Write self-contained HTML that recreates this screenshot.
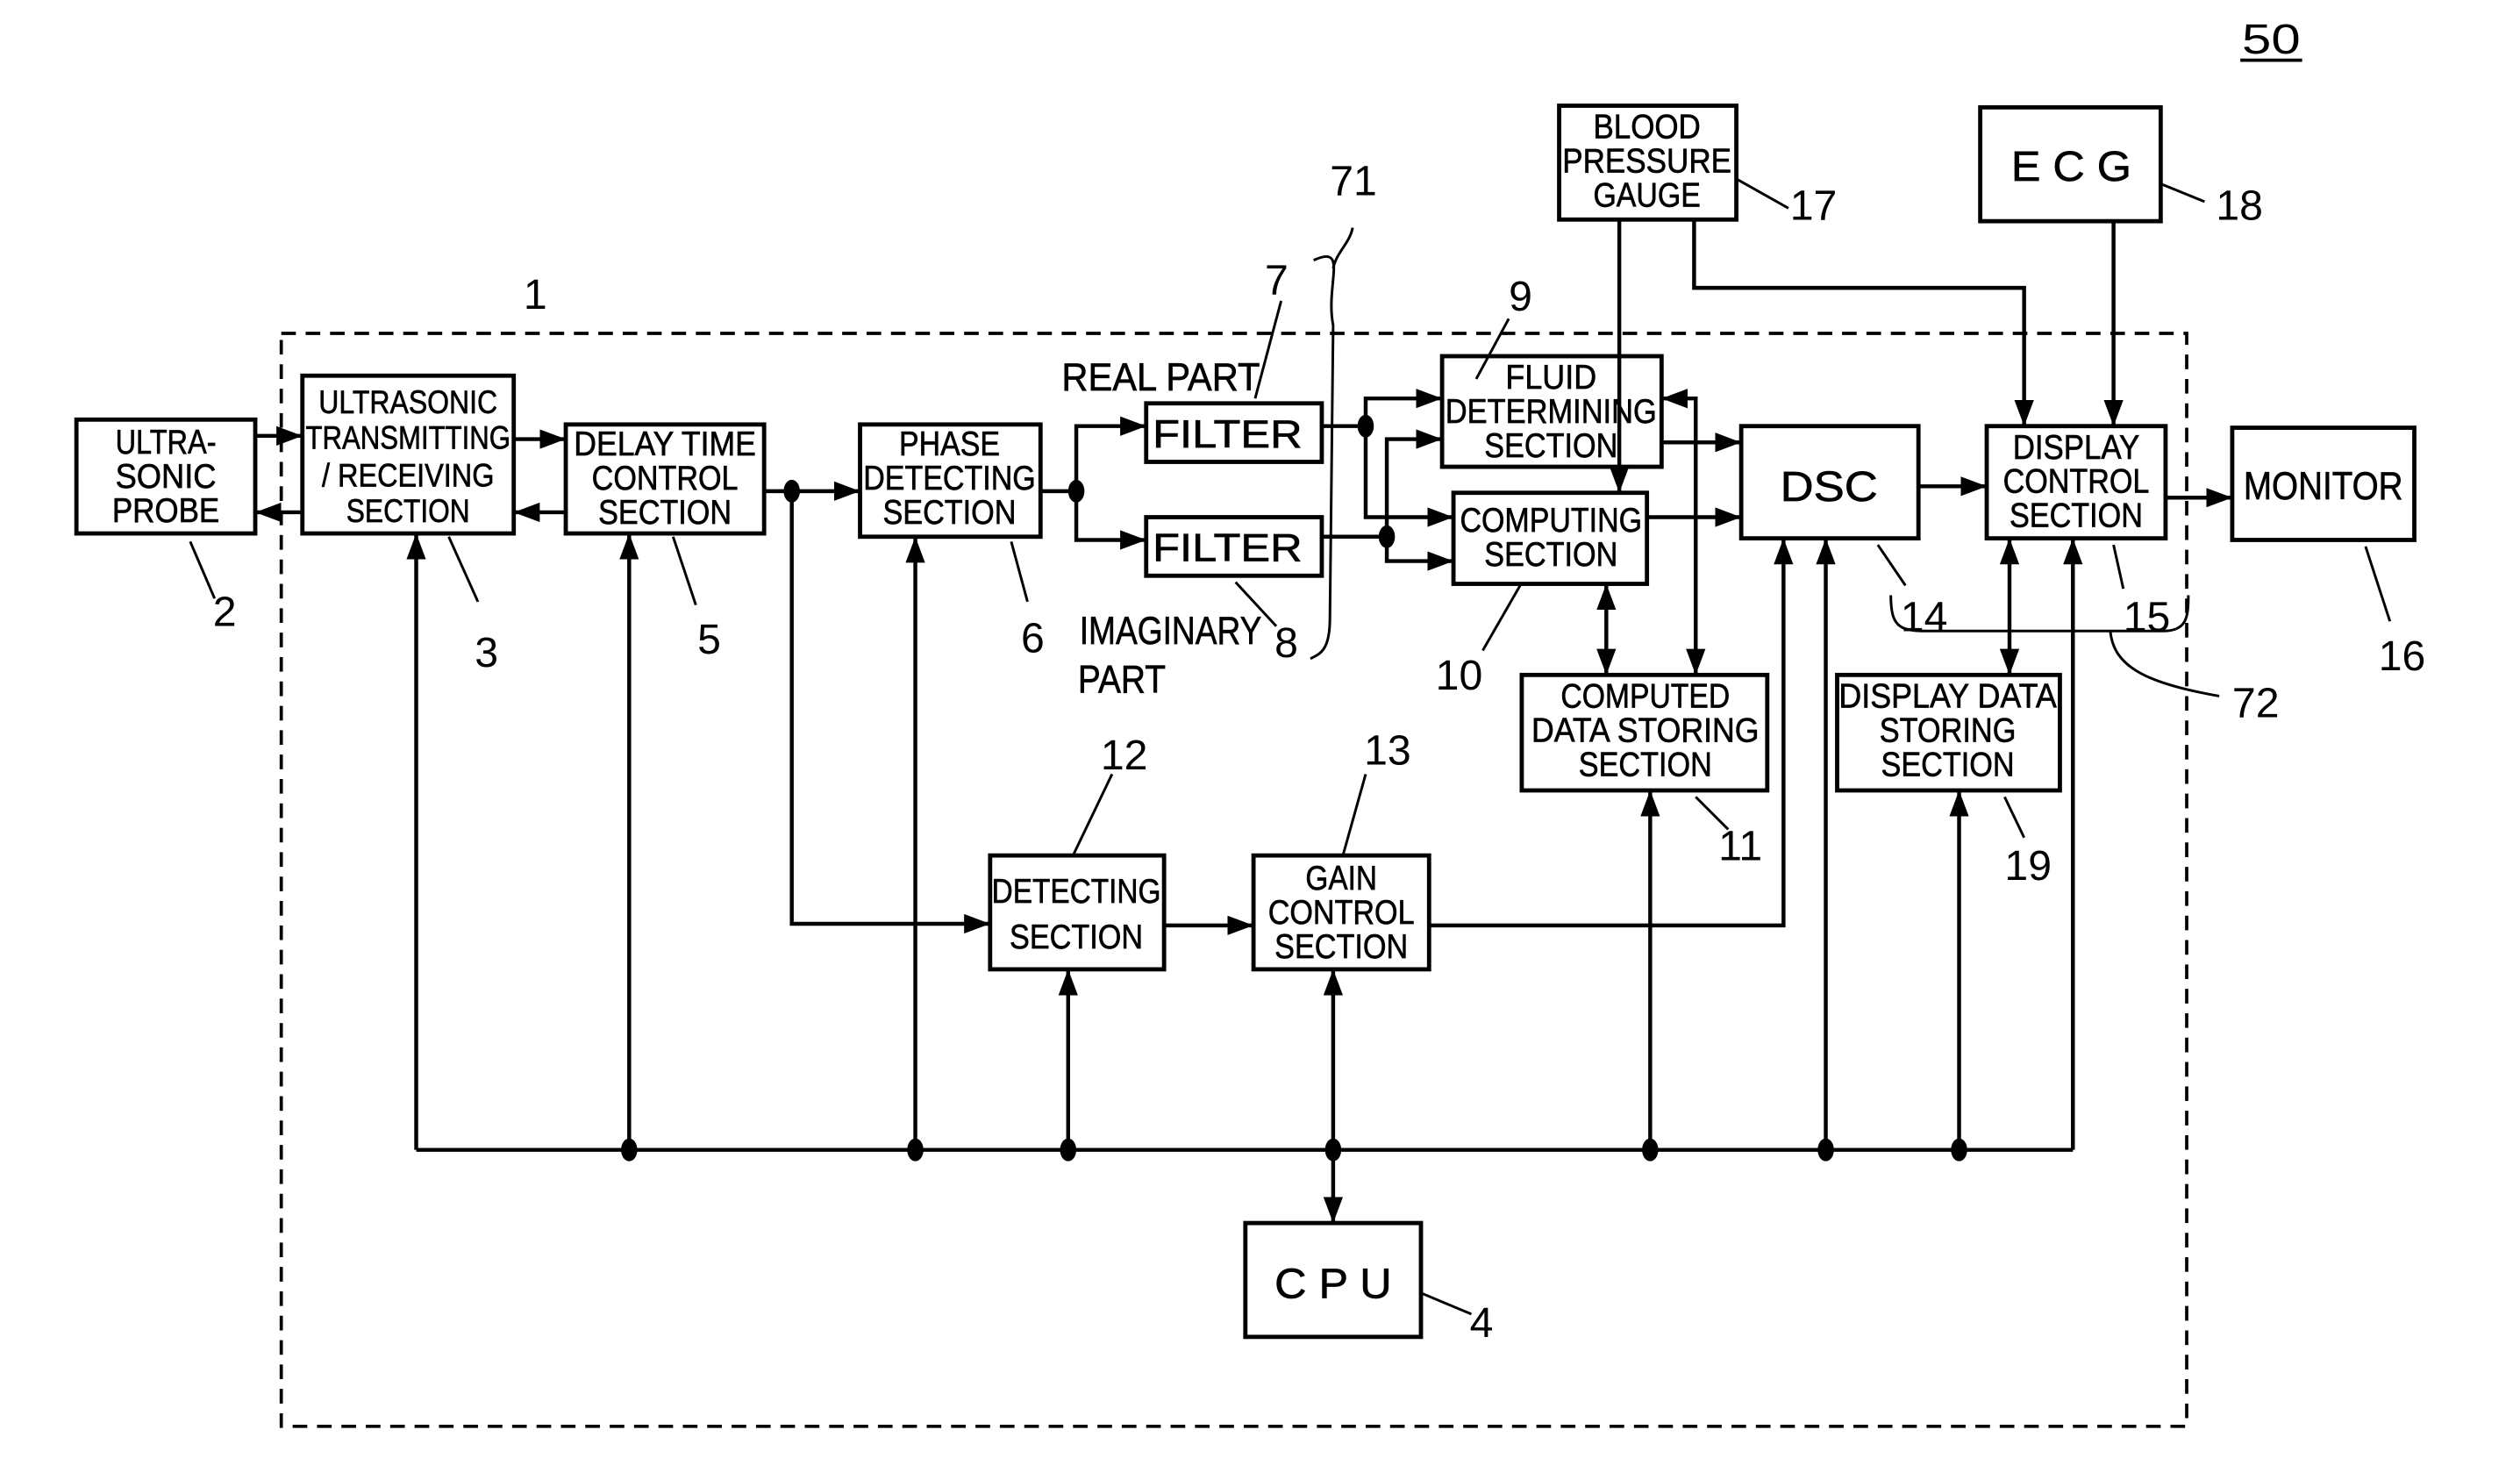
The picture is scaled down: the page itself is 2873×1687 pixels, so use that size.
<!DOCTYPE html>
<html><head><meta charset="utf-8"><style>
html,body{margin:0;padding:0;background:#fff;}
svg{display:block;}
text{font-family:"Liberation Sans",sans-serif;fill:#000;}
.b{font-size:21px;text-anchor:middle;stroke:#000;stroke-width:0.35;}
.n{font-size:26px;}
</style></head><body>
<svg width="2873" height="1687" viewBox="0 0 1550 910" preserveAspectRatio="none" xmlns="http://www.w3.org/2000/svg">
<defs>
<marker id="a" viewBox="0 0 16 12" refX="16" refY="6" markerWidth="16" markerHeight="12" markerUnits="userSpaceOnUse" orient="auto-start-reverse">
<path d="M0,0 L16,6 L0,12 z" fill="#000"/></marker>
</defs>
<g fill="none" stroke="#000" stroke-width="2.6">
<rect x="173" y="205" width="1172" height="672" stroke-dasharray="9,6" stroke-width="2"/>
<rect x="47" y="258" width="110" height="70"/>
<rect x="186" y="231" width="130" height="97"/>
<rect x="348" y="261" width="122" height="67"/>
<rect x="529" y="261" width="111" height="69"/>
<rect x="705" y="248" width="108" height="36"/>
<rect x="705" y="318" width="108" height="36"/>
<rect x="887" y="219" width="135" height="68"/>
<rect x="894" y="303" width="119" height="56"/>
<rect x="1071" y="262" width="109" height="69"/>
<rect x="1222" y="262" width="110" height="69"/>
<rect x="1373" y="263" width="112" height="69"/>
<rect x="959" y="65" width="109" height="70"/>
<rect x="1218" y="66" width="111" height="70"/>
<rect x="936" y="415" width="151" height="71"/>
<rect x="1130" y="415" width="137" height="71"/>
<rect x="609" y="526" width="107" height="70"/>
<rect x="771" y="526" width="108" height="70"/>
<rect x="766" y="752" width="108" height="70"/>
</g>
<g fill="none" stroke="#000" stroke-width="2.4">
<line x1="157" y1="268" x2="186" y2="268" marker-end="url(#a)"/>
<line x1="186" y1="315" x2="157" y2="315" marker-end="url(#a)"/>
<line x1="316" y1="270" x2="348" y2="270" marker-end="url(#a)"/>
<line x1="348" y1="315" x2="316" y2="315" marker-end="url(#a)"/>
<line x1="470" y1="302" x2="529" y2="302" marker-end="url(#a)"/>
<polyline points="487,302 487,568 609,568" marker-end="url(#a)"/>
<line x1="640" y1="302" x2="662" y2="302"/>
<polyline points="662,302 662,262 705,262" marker-end="url(#a)"/>
<polyline points="662,302 662,332 705,332" marker-end="url(#a)"/>
<line x1="813" y1="262" x2="840" y2="262"/>
<polyline points="840,262 840,245 887,245" marker-end="url(#a)"/>
<polyline points="840,262 840,318 894,318" marker-end="url(#a)"/>
<line x1="813" y1="330" x2="853" y2="330"/>
<polyline points="853,330 853,270 887,270" marker-end="url(#a)"/>
<polyline points="853,330 853,345 894,345" marker-end="url(#a)"/>
<line x1="1022" y1="272" x2="1071" y2="272" marker-end="url(#a)"/>
<line x1="1013" y1="318" x2="1071" y2="318" marker-end="url(#a)"/>
<line x1="996" y1="135" x2="996" y2="303" marker-end="url(#a)"/>
<polyline points="1042,135 1042,177 1245,177 1245,262" marker-end="url(#a)"/>
<line x1="1300" y1="136" x2="1300" y2="262" marker-end="url(#a)"/>
<polyline points="1043,415 1043,245 1022,245" marker-start="url(#a)" marker-end="url(#a)"/>
<line x1="988" y1="359" x2="988" y2="415" marker-start="url(#a)" marker-end="url(#a)"/>
<line x1="1180" y1="299" x2="1222" y2="299" marker-end="url(#a)"/>
<line x1="1332" y1="306" x2="1373" y2="306" marker-end="url(#a)"/>
<line x1="1236" y1="331" x2="1236" y2="415" marker-start="url(#a)" marker-end="url(#a)"/>
<line x1="256" y1="707" x2="1275" y2="707"/>
<line x1="256" y1="707" x2="256" y2="328" marker-end="url(#a)"/>
<line x1="387" y1="707" x2="387" y2="328" marker-end="url(#a)"/>
<line x1="563" y1="707" x2="563" y2="330" marker-end="url(#a)"/>
<line x1="657" y1="707" x2="657" y2="596" marker-end="url(#a)"/>
<line x1="820" y1="707" x2="820" y2="596" marker-end="url(#a)"/>
<line x1="820" y1="707" x2="820" y2="752" marker-end="url(#a)"/>
<line x1="1015" y1="707" x2="1015" y2="486" marker-end="url(#a)"/>
<line x1="1123" y1="707" x2="1123" y2="331" marker-end="url(#a)"/>
<line x1="1205" y1="707" x2="1205" y2="486" marker-end="url(#a)"/>
<line x1="1275" y1="707" x2="1275" y2="331" marker-end="url(#a)"/>
<line x1="716" y1="569" x2="771" y2="569" marker-end="url(#a)"/>
<polyline points="879,569 1097,569 1097,331" marker-end="url(#a)"/>
</g>
<g fill="#000">
<ellipse cx="487" cy="302" rx="5" ry="7"/><ellipse cx="662" cy="302" rx="5" ry="7"/>
<ellipse cx="840" cy="262" rx="5" ry="7"/><ellipse cx="853" cy="330" rx="5" ry="7"/>
<ellipse cx="387" cy="707" rx="5" ry="7"/><ellipse cx="563" cy="707" rx="5" ry="7"/>
<ellipse cx="657" cy="707" rx="5" ry="7"/><ellipse cx="820" cy="707" rx="5" ry="7"/>
<ellipse cx="1015" cy="707" rx="5" ry="7"/><ellipse cx="1123" cy="707" rx="5" ry="7"/>
<ellipse cx="1205" cy="707" rx="5" ry="7"/>
</g>
<g fill="none" stroke="#000" stroke-width="1.6">
<line x1="117" y1="333" x2="132" y2="368"/>
<line x1="276" y1="330" x2="294" y2="370"/>
<line x1="414" y1="330" x2="428" y2="372"/>
<line x1="622" y1="333" x2="632" y2="370"/>
<line x1="788" y1="185" x2="772" y2="245"/>
<line x1="760" y1="358" x2="785" y2="385"/>
<line x1="928" y1="196" x2="908" y2="233"/>
<line x1="935" y1="360" x2="912" y2="400"/>
<line x1="1043" y1="490" x2="1063" y2="510"/>
<line x1="684" y1="476" x2="660" y2="526"/>
<line x1="840" y1="476" x2="826" y2="526"/>
<line x1="1155" y1="335" x2="1172" y2="360"/>
<line x1="1300" y1="335" x2="1306" y2="362"/>
<line x1="1455" y1="336" x2="1470" y2="382"/>
<line x1="1068" y1="110" x2="1100" y2="128"/>
<line x1="1329" y1="113" x2="1356" y2="124"/>
<line x1="1233" y1="490" x2="1245" y2="515"/>
<line x1="874" y1="795" x2="905" y2="808"/>
<path d="M808,160 C830,150 815,175 820,200 L818,380 C818,400 812,402 806,405"/>
<path d="M832,140 C830,150 822,155 820,165"/>
<path d="M1163,366 C1163,385 1168,388 1185,388 L1330,388 C1345,388 1346,380 1346,366"/>
<path d="M1298,388 C1300,410 1320,420 1365,428"/>
</g>
<text x="1379" y="33" class="n" textLength="36" lengthAdjust="spacingAndGlyphs">50</text>
<line x1="1378" y1="37" x2="1416" y2="37" stroke="#000" stroke-width="2"/>
<g class="b">
<text><tspan x="102" y="279" textLength="62" lengthAdjust="spacingAndGlyphs">ULTRA-</tspan><tspan x="102" y="300" textLength="62" lengthAdjust="spacingAndGlyphs">SONIC</tspan><tspan x="102" y="321" textLength="66" lengthAdjust="spacingAndGlyphs">PROBE</tspan></text>
<text font-size="20"><tspan x="251" y="254" textLength="110" lengthAdjust="spacingAndGlyphs">ULTRASONIC</tspan><tspan x="251" y="276" textLength="126" lengthAdjust="spacingAndGlyphs">TRANSMITTING</tspan><tspan x="251" y="299" textLength="106" lengthAdjust="spacingAndGlyphs">/ RECEIVING</tspan><tspan x="251" y="321" textLength="76" lengthAdjust="spacingAndGlyphs">SECTION</tspan></text>
<text><tspan x="409" y="280" textLength="112" lengthAdjust="spacingAndGlyphs">DELAY TIME</tspan><tspan x="409" y="301" textLength="90" lengthAdjust="spacingAndGlyphs">CONTROL</tspan><tspan x="409" y="322" textLength="82" lengthAdjust="spacingAndGlyphs">SECTION</tspan></text>
<text><tspan x="584" y="280" textLength="62" lengthAdjust="spacingAndGlyphs">PHASE</tspan><tspan x="584" y="301" textLength="106" lengthAdjust="spacingAndGlyphs">DETECTING</tspan><tspan x="584" y="322" textLength="82" lengthAdjust="spacingAndGlyphs">SECTION</tspan></text>
<text font-size="24" x="755" y="275" textLength="92" lengthAdjust="spacingAndGlyphs">FILTER</text>
<text font-size="24" x="755" y="345" textLength="92" lengthAdjust="spacingAndGlyphs">FILTER</text>
<text><tspan x="954" y="239" textLength="56" lengthAdjust="spacingAndGlyphs">FLUID</tspan><tspan x="954" y="260" textLength="130" lengthAdjust="spacingAndGlyphs">DETERMINING</tspan><tspan x="954" y="281" textLength="82" lengthAdjust="spacingAndGlyphs">SECTION</tspan></text>
<text><tspan x="954" y="327" textLength="112" lengthAdjust="spacingAndGlyphs">COMPUTING</tspan><tspan x="954" y="348" textLength="82" lengthAdjust="spacingAndGlyphs">SECTION</tspan></text>
<text font-size="26" x="1125" y="308" textLength="60" lengthAdjust="spacingAndGlyphs">DSC</text>
<text><tspan x="1277" y="282" textLength="78" lengthAdjust="spacingAndGlyphs">DISPLAY</tspan><tspan x="1277" y="303" textLength="90" lengthAdjust="spacingAndGlyphs">CONTROL</tspan><tspan x="1277" y="324" textLength="82" lengthAdjust="spacingAndGlyphs">SECTION</tspan></text>
<text font-size="24" x="1429" y="307" textLength="98" lengthAdjust="spacingAndGlyphs">MONITOR</text>
<text><tspan x="1013" y="85" textLength="66" lengthAdjust="spacingAndGlyphs">BLOOD</tspan><tspan x="1013" y="106" textLength="104" lengthAdjust="spacingAndGlyphs">PRESSURE</tspan><tspan x="1013" y="127" textLength="66" lengthAdjust="spacingAndGlyphs">GAUGE</tspan></text>
<text font-size="26" x="1274" y="111" textLength="74" lengthAdjust="spacingAndGlyphs">E C G</text>
<text><tspan x="1012" y="435" textLength="104" lengthAdjust="spacingAndGlyphs">COMPUTED</tspan><tspan x="1012" y="456" textLength="140" lengthAdjust="spacingAndGlyphs">DATA STORING</tspan><tspan x="1012" y="477" textLength="82" lengthAdjust="spacingAndGlyphs">SECTION</tspan></text>
<text><tspan x="1198" y="435" textLength="134" lengthAdjust="spacingAndGlyphs">DISPLAY DATA</tspan><tspan x="1198" y="456" textLength="84" lengthAdjust="spacingAndGlyphs">STORING</tspan><tspan x="1198" y="477" textLength="82" lengthAdjust="spacingAndGlyphs">SECTION</tspan></text>
<text><tspan x="662" y="555" textLength="104" lengthAdjust="spacingAndGlyphs">DETECTING</tspan><tspan x="662" y="583" textLength="82" lengthAdjust="spacingAndGlyphs">SECTION</tspan></text>
<text><tspan x="825" y="547" textLength="44" lengthAdjust="spacingAndGlyphs">GAIN</tspan><tspan x="825" y="568" textLength="90" lengthAdjust="spacingAndGlyphs">CONTROL</tspan><tspan x="825" y="589" textLength="82" lengthAdjust="spacingAndGlyphs">SECTION</tspan></text>
<text font-size="26" x="820" y="798" textLength="72" lengthAdjust="spacingAndGlyphs">C P U</text>
<text font-size="24" x="714" y="240" textLength="122" lengthAdjust="spacingAndGlyphs">REAL PART</text>
<text font-size="24" x="720" y="396" textLength="112" lengthAdjust="spacingAndGlyphs">IMAGINARY</text>
<text font-size="24" x="690" y="426" textLength="54" lengthAdjust="spacingAndGlyphs">PART</text>
</g>
<g class="n">
<text x="322" y="190">1</text><text x="131" y="385">2</text><text x="292" y="410">3</text>
<text x="429" y="402">5</text><text x="628" y="401">6</text><text x="778" y="181">7</text>
<text x="818" y="120">71</text><text x="784" y="404">8</text><text x="928" y="191">9</text>
<text x="883" y="424">10</text><text x="1057" y="529">11</text><text x="677" y="473">12</text>
<text x="839" y="470">13</text><text x="1169" y="388">14</text><text x="1306" y="388">15</text>
<text x="1463" y="412">16</text><text x="1101" y="135">17</text><text x="1363" y="135">18</text>
<text x="1233" y="541">19</text><text x="904" y="822">4</text><text x="1373" y="441">72</text>
</g>
</svg>
</body></html>
